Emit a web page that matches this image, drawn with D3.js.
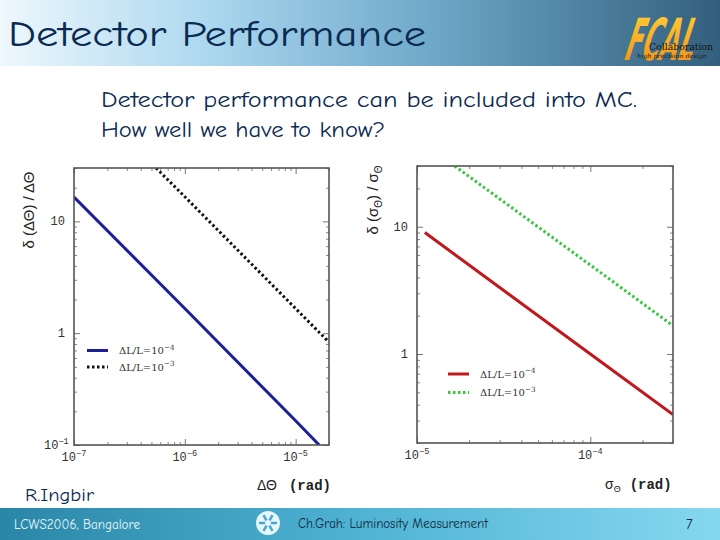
<!DOCTYPE html>
<html><head><meta charset="utf-8">
<script src="https://cdn.jsdelivr.net/npm/d3@7"></script>
<style>
body{margin:0;padding:0;background:#fff;}
svg{display:block;}
</style></head>
<body>
<svg id="c" width="720" height="540"></svg>
<script>
// ---- data ----
const slideTitle = "Detector Performance";
const subtitleLines = ["Detector performance can be included into MC.", "How well we have to know?"];
const legendLabels = ["ΔL/L=10", "ΔL/L=10"];
const legendExponents = ["-4", "-3"];

// left panel: δ(ΔΘ)/ΔΘ vs ΔΘ
const leftXDomain = [1e-7, 2e-5];
const leftYDomain = [0.1, 30];
const leftXTicks = [1e-7, 1e-6, 1e-5];
const leftXTickExp = ["-7", "-6", "-5"];
const leftYTicks = [0.1, 1, 10];
const leftYTickLabels = [["10","-1"], ["1",""], ["10",""]];
const leftSolid = [[1e-7, 16.5], [1e-6, 1.66], [1e-5, 0.165], [1.63e-5, 0.1]];
const leftDotted = [[5.5e-7, 30], [1e-6, 16.6], [1e-5, 1.66], [2e-5, 0.83]];

// right panel: δ(σΘ)/σΘ vs σΘ
const rightXDomain = [1e-5, 3e-4];
const rightYDomain = [0.2, 30];
const rightXTicks = [1e-5, 1e-4];
const rightXTickExp = ["-5", "-4"];
const rightYTicks = [1, 10];
const rightYTickLabels = [["1",""], ["10",""]];
const rightSolid = [[1.11e-5, 9.0], [3e-5, 3.33], [1e-4, 1.0], [3e-4, 0.335]];
const rightDotted = [[1.65e-5, 30], [1e-4, 5.0], [3e-4, 1.67]];

const footerLeft = "LCWS2006, Bangalore";
const footerMid = "Ch.Grah: Luminosity Measurement";
const footerPage = "7";
const author = "R.Ingbir";

// ---- drawing ----
const svg = d3.select("#c");
const defs = svg.append("defs");
const hg = defs.append("linearGradient").attr("id","hdr").attr("x1","0").attr("x2","1").attr("y1","0").attr("y2","0");
[[0,"#eef8fd"],[0.3,"#a9d6ee"],[0.6,"#6ea8c8"],[1,"#325f7c"]].forEach(s=>hg.append("stop").attr("offset",s[0]).attr("stop-color",s[1]));
const fg = defs.append("linearGradient").attr("id","ftr").attr("x1","0").attr("x2","1").attr("y1","0").attr("y2","0");
[[0,"#2a86a6"],[0.5,"#4fb3d3"],[1,"#86d8f0"]].forEach(s=>fg.append("stop").attr("offset",s[0]).attr("stop-color",s[1]));
const og = defs.append("linearGradient").attr("id","org").attr("x1","0").attr("x2","0").attr("y1","0").attr("y2","1");
[[0,"#ffd23a"],[1,"#f08a10"]].forEach(s=>og.append("stop").attr("offset",s[0]).attr("stop-color",s[1]));

const comic = "'Comic Sans MS','Comic Neue','DejaVu Sans',sans-serif";
// header
svg.append("rect").attr("x",0).attr("y",0).attr("width",720).attr("height",66).attr("fill","url(#hdr)");
svg.append("text").attr("x",8).attr("y",46).attr("font-family",comic).attr("font-size",37)
  .attr("fill","#0b2a52").attr("textLength",418).attr("lengthAdjust","spacingAndGlyphs").text(slideTitle);
// FCAL logo
const logo = svg.append("g");
logo.append("text").attr("x",0).attr("y",0).attr("transform","translate(622,60) skewX(-18) scale(0.7,1.45)")
  .attr("font-family","'DejaVu Sans',sans-serif").attr("font-weight","bold").attr("font-size",40)
  .attr("fill","url(#org)").attr("textLength",98).attr("lengthAdjust","spacingAndGlyphs").text("FCAL");
logo.append("text").attr("x",649).attr("y",50).attr("font-family","'DejaVu Serif',serif").attr("font-size",8.5)
  .attr("fill","#111").attr("textLength",64).attr("lengthAdjust","spacingAndGlyphs").text("Collaboration");
logo.append("text").attr("x",637).attr("y",58).attr("font-family","'DejaVu Serif',serif").attr("font-style","italic").attr("font-size",6)
  .attr("fill","#222").attr("textLength",70).attr("lengthAdjust","spacingAndGlyphs").text("high precision design");

// subtitle
subtitleLines.forEach((t,i)=>{
  svg.append("text").attr("x",101).attr("y",107+i*30).attr("font-family",comic).attr("font-size",22)
    .attr("fill","#0b2a52").attr("textLength", i===0?536:284).attr("lengthAdjust","spacingAndGlyphs").text(t);
});

function supText(g, x, y, base, exp, anchor, size, family, fill){
  const t = g.append("text").attr("x",x).attr("y",y).attr("text-anchor",anchor)
    .attr("font-family",family).attr("font-size",size).attr("fill",fill);
  t.append("tspan").text(base);
  if(exp){ t.append("tspan").attr("dy",-size*0.45).attr("font-size",size*0.72).text(exp.replace("-","−")); }
  return t;
}

function panel(opt){
  const g = svg.append("g");
  const x = d3.scaleLog().domain(opt.xDomain).range([opt.left, opt.right]);
  const y = d3.scaleLog().domain(opt.yDomain).range([opt.bottom, opt.top]);
  g.append("rect").attr("x",opt.left).attr("y",opt.top).attr("width",opt.right-opt.left).attr("height",opt.bottom-opt.top)
    .attr("fill","#fff");
  const allX = x.ticks().filter(v=>v>=opt.xDomain[0]*0.999 && v<=opt.xDomain[1]*1.001);
  const allY = y.ticks().filter(v=>v>=opt.yDomain[0]*0.999 && v<=opt.yDomain[1]*1.001);
  const isMajor = v => Math.abs(Math.log10(v)-Math.round(Math.log10(v)))<1e-6;
  const minorX = allX.filter(v=>!isMajor(v)), minorY = allY.filter(v=>!isMajor(v));
  const majorX = allX.filter(isMajor), majorY = allY.filter(isMajor);
  const axes = [
    [d3.axisBottom(x), `translate(0,${opt.bottom})`, majorX, minorX],
    [d3.axisTop(x), `translate(0,${opt.top})`, majorX, minorX],
    [d3.axisLeft(y), `translate(${opt.left},0)`, majorY, minorY],
    [d3.axisRight(y), `translate(${opt.right},0)`, majorY, minorY]
  ];
  axes.forEach(([ax, tr, maj, min])=>{
    const a1 = g.append("g").attr("transform",tr).call(ax.tickValues(maj).tickSize(-6).tickFormat(""));
    a1.select(".domain").remove();
    a1.selectAll("line").attr("stroke","#777").attr("stroke-width",1);
    const a2 = g.append("g").attr("transform",tr).call(ax.tickValues(min).tickSize(-3).tickFormat(""));
    a2.select(".domain").remove();
    a2.selectAll("line").attr("stroke","#888").attr("stroke-width",1);
  });
  // lines
  const line = d3.line().x(d=>x(d[0])).y(d=>y(d[1]));
  g.append("clipPath").attr("id",opt.id+"clip").append("rect").attr("x",opt.left).attr("y",opt.top)
    .attr("width",opt.right-opt.left).attr("height",opt.bottom-opt.top);
  const lg = g.append("g").attr("clip-path",`url(#${opt.id}clip)`);
  lg.append("path").datum(opt.solid).attr("d",line).attr("fill","none").attr("stroke",opt.solidColor).attr("stroke-width",3);
  lg.append("path").datum(opt.dotted).attr("d",line).attr("fill","none").attr("stroke",opt.dotColor).attr("stroke-width",3)
    .attr("stroke-dasharray","2.5,2.5");
  // frame
  g.append("rect").attr("x",opt.left).attr("y",opt.top).attr("width",opt.right-opt.left).attr("height",opt.bottom-opt.top)
    .attr("fill","none").attr("stroke","#555").attr("stroke-width",1.6);
  // tick labels
  const mono = "'Liberation Mono','DejaVu Sans Mono',monospace";
  opt.xTicks.forEach((v,i)=>{
    supText(g, x(v), opt.bottom+16, "10", opt.xTickExp[i], "middle", 12, mono, "#333");
  });
  opt.yTicks.forEach((v,i)=>{
    const [b,e] = opt.yTickLabels[i];
    const t = supText(g, opt.left-9, y(v)+4, b, e, "end", 12, mono, "#333");
    if(e){ t.attr("text-anchor","start").attr("x", opt.left-30); }
  });
  // legend
  opt.legend.forEach((L,i)=>{
    const ly = opt.legY + i*opt.legDy;
    g.append("line").attr("x1",opt.legX).attr("x2",opt.legX+21).attr("y1",ly).attr("y2",ly)
      .attr("stroke", i===0?opt.solidColor:opt.dotColor).attr("stroke-width",3)
      .attr("stroke-dasharray", i===0?null:"2.5,2.5");
    supText(g, opt.legX+32, ly+3.5, legendLabels[i], legendExponents[i], "start", 10, "'DejaVu Serif',serif", "#333");
  });
  return {x,y,g};
}

panel({id:"L", left:74, right:329, top:168, bottom:445, xDomain:leftXDomain, yDomain:leftYDomain,
  xTicks:leftXTicks, xTickExp:leftXTickExp, yTicks:leftYTicks, yTickLabels:leftYTickLabels,
  solid:leftSolid, dotted:leftDotted, solidColor:"#1c1f96", dotColor:"#111",
  legend:[0,1], legX:87, legY:350.5, legDy:16.5});
panel({id:"R", left:417, right:673, top:166, bottom:443, xDomain:rightXDomain, yDomain:rightYDomain,
  xTicks:rightXTicks, xTickExp:rightXTickExp, yTicks:rightYTicks, yTickLabels:rightYTickLabels,
  solid:rightSolid, dotted:rightDotted, solidColor:"#c0181c", dotColor:"#35c83a",
  legend:[0,1], legX:448, legY:374, legDy:18.5});

// axis titles
const sans = "'Liberation Sans','DejaVu Sans',sans-serif";
svg.append("text").attr("transform","translate(34,210) rotate(-90)").attr("text-anchor","middle")
  .attr("font-family",sans).attr("font-size",15).attr("fill","#222").text("δ (ΔΘ) / ΔΘ");
const rt = svg.append("text").attr("transform","translate(378,200) rotate(-90)").attr("text-anchor","middle")
  .attr("font-family",sans).attr("font-size",15).attr("fill","#222");
rt.append("tspan").text("δ (σ");
rt.append("tspan").attr("font-size",10).attr("dy",4).text("Θ");
rt.append("tspan").attr("dy",-4).text(") / σ");
rt.append("tspan").attr("font-size",10).attr("dy",4).text("Θ");

const xt1 = svg.append("text").attr("x",257).attr("y",490).attr("font-family",sans).attr("font-size",14).attr("fill","#222");
xt1.append("tspan").text("ΔΘ");
xt1.append("tspan").attr("dx",12).attr("font-family","'Liberation Mono',monospace").attr("font-weight","bold").attr("font-size",14).text("(rad)");
const xt2 = svg.append("text").attr("x",605).attr("y",489).attr("font-family",sans).attr("font-size",14).attr("fill","#222");
xt2.append("tspan").text("σ");
xt2.append("tspan").attr("font-size",9).attr("dy",3).text("Θ");
xt2.append("tspan").attr("dy",-3).attr("dx",9).attr("font-family","'Liberation Mono',monospace").attr("font-weight","bold").attr("font-size",14).text("(rad)");

// author
svg.append("text").attr("x",25).attr("y",501).attr("font-family",comic).attr("font-size",19).attr("fill","#0b2a52")
  .attr("textLength",69).attr("lengthAdjust","spacingAndGlyphs").text(author);

// footer
svg.append("rect").attr("x",0).attr("y",508).attr("width",720).attr("height",32).attr("fill","url(#ftr)");
svg.append("text").attr("x",14).attr("y",529).attr("font-family",comic).attr("font-size",13).attr("fill","#e8f6fb")
  .attr("textLength",126).attr("lengthAdjust","spacingAndGlyphs").text(footerLeft);
svg.append("text").attr("x",298).attr("y",528).attr("font-family",comic).attr("font-size",13).attr("fill","#102a40")
  .attr("textLength",190).attr("lengthAdjust","spacingAndGlyphs").text(footerMid);
svg.append("text").attr("x",686).attr("y",529).attr("font-family",comic).attr("font-size",14).attr("fill","#102a40").text(footerPage);
// small logo
const sl = svg.append("g").attr("transform","translate(268,523)");
sl.append("circle").attr("r",12).attr("fill","#e6f6fc");
d3.range(6).forEach(i=>{
  const a = i*Math.PI/3;
  sl.append("line").attr("x1",0).attr("y1",0).attr("x2",9*Math.cos(a)).attr("y2",9*Math.sin(a))
    .attr("stroke","#4aa6cc").attr("stroke-width",2.5);
});
sl.append("circle").attr("r",3).attr("fill","#e6f6fc");
</script>
</body></html>
